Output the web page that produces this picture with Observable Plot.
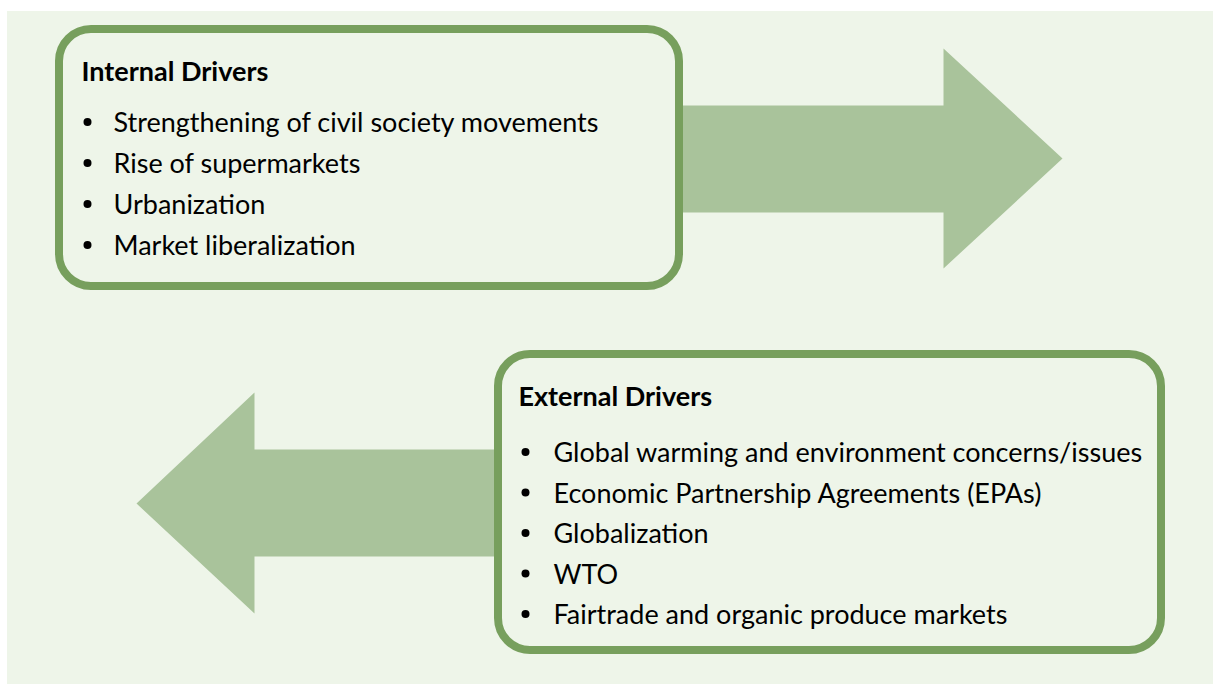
<!DOCTYPE html>
<html>
<head>
<meta charset="utf-8">
<script src="https://cdn.jsdelivr.net/npm/d3@7"></script>
<script src="https://cdn.jsdelivr.net/npm/@observablehq/plot@0.6"></script>
<style>
  html, body { margin: 0; padding: 0; background: #ffffff; }
  #chart svg { display: block; }
</style>
</head>
<body>
<div id="chart"></div>
<script>
// ---- content ----
const internalTitle = "Internal Drivers";
const internalDrivers = [
  "Strengthening of civil society movements",
  "Rise of supermarkets",
  "Urbanization",
  "Market liberalization"
];
const externalTitle = "External Drivers";
const externalDrivers = [
  "Global warming and environment concerns/issues",
  "Economic Partnership Agreements (EPAs)",
  "Globalization",
  "WTO",
  "Fairtrade and organic produce markets"
];

// ---- layout (pixel frame of the diagram) ----
const W = 1213, H = 684;
const panel = {x1: 7, y1: 11, x2: 1213, y2: 684};
const boxes = [
  {x1: 59, y1: 29, x2: 679, y2: 286, titleX: 81, titleY: 80, bulletX: 87, textX: 113, firstY: 131.5, step: 41, title: internalTitle, items: internalDrivers},
  {x1: 498, y1: 354, x2: 1161, y2: 650, titleX: 518, titleY: 405, bulletX: 525, textX: 553, firstY: 461.5, step: 40.5, title: externalTitle, items: externalDrivers}
];
const arrows = [
  {tailX: 640, bodyTop: 105, bodyBottom: 212, headX: 943, headTop: 48, headBottom: 268, tipX: 1062, tipY: 158},
  {tailX: 540, bodyTop: 449, bodyBottom: 556, headX: 254, headTop: 392, headBottom: 613, tipX: 136, tipY: 503}
];

const arrowPts = arrows.flatMap((a, k) => [
  [a.tailX, a.bodyTop], [a.headX, a.bodyTop], [a.headX, a.headTop], [a.tipX, a.tipY],
  [a.headX, a.headBottom], [a.headX, a.bodyBottom], [a.tailX, a.bodyBottom]
].map(([x, y]) => ({x, y, k})));

const titles = boxes.map(b => ({x: b.titleX, y: b.titleY, text: b.title}));
const items = boxes.flatMap(b => b.items.map((t, i) => ({x: b.textX, bx: b.bulletX, y: b.firstY + i * b.step, text: t})));

const FONT = "Lato, 'Open Sans', sans-serif";
const plot = Plot.plot({
  width: W, height: H,
  margin: 0,
  x: {domain: [0, W], range: [0, W], axis: null},
  y: {domain: [0, H], range: [0, H], axis: null},
  style: {fontFamily: FONT, background: "#ffffff"},
  marks: [
    Plot.rect([panel], {x1: "x1", x2: "x2", y1: "y1", y2: "y2", fill: "#eef5e9"}),
    Plot.line(arrowPts, {x: "x", y: "y", z: "k", fill: "#a9c39b", stroke: "none", curve: "linear-closed"}),
    Plot.rect(boxes, {x1: "x1", x2: "x2", y1: "y1", y2: "y2", fill: "#eef5e9", stroke: "#779f5d", strokeWidth: 8, rx: 32}),
    Plot.text(titles, {x: "x", y: "y", text: "text", textAnchor: "start", lineAnchor: "bottom", fontSize: 27, fontWeight: "bold", fill: "#000"}),
    Plot.dot(items, {x: "bx", y: d => d.y - 10, r: 4, fill: "#000", stroke: "none"}),
    Plot.text(items, {x: "x", y: "y", text: "text", textAnchor: "start", lineAnchor: "bottom", fontSize: 27, fill: "#000"})
  ]
});
document.getElementById("chart").appendChild(plot);
</script>
</body>
</html>
